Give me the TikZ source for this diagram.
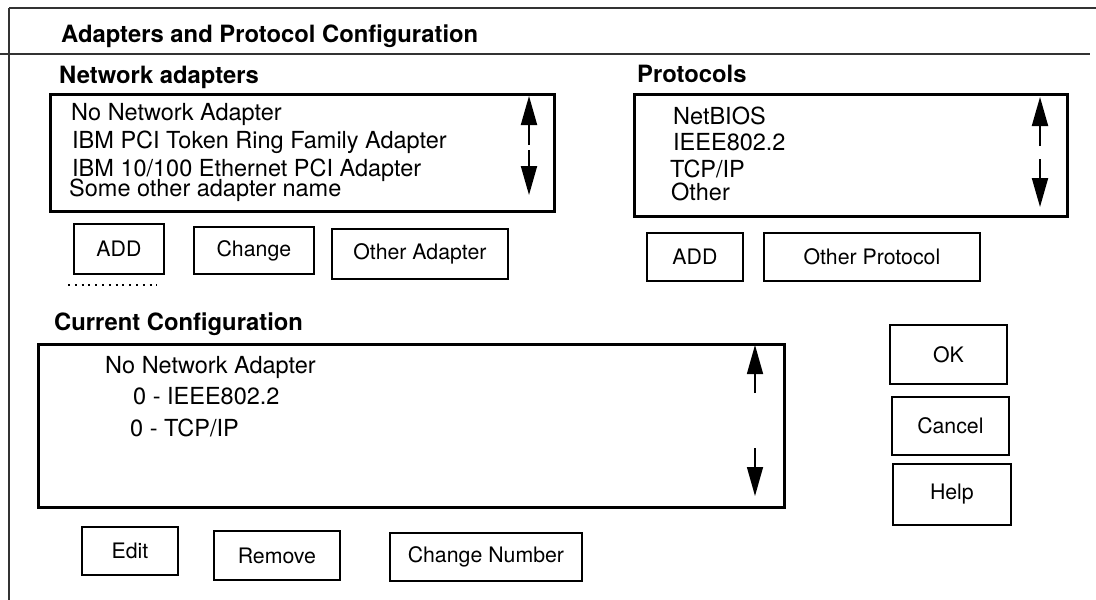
\documentclass[tikz,border=0pt]{standalone}
\usepackage{fontspec}
\setmainfont{TeX Gyre Heros}
\usetikzlibrary{arrows.meta}

\begin{document}
\begin{tikzpicture}[x=1pt, y=-1pt,
    frameline/.style={line width=1.8pt, black!80},
    listbox/.style={draw, line width=3pt, anchor=north west, inner sep=0pt},
    button/.style={draw, line width=1.8pt, anchor=north west, inner sep=0pt,
        font=\fontsize{21.3}{24}\selectfont},
    item/.style={anchor=base west, inner sep=0pt, font=\fontsize{23.5}{28}\selectfont},
    heading/.style={anchor=base west, inner sep=0pt,
        font=\fontsize{23.8}{28}\selectfont\bfseries},
    scroll/.style={line width=2pt, -{Triangle[length=29pt, width=16pt]}}]

    \useasboundingbox (0,0) rectangle (1096,600);

    % window frame
    \coordinate (tl) at (9,8);
    \coordinate (tr) at (1096,8);
    \coordinate (bl) at (9,600);
    \coordinate (sepL) at (0,54);
    \coordinate (sepR) at (1090,54);
    \draw[frameline] (tl) -- (tr);
    \draw[frameline] (tl) -- (bl);
    \draw[frameline] (sepL) -- (sepR);

    \node[heading] (title) at (61,42) {Adapters and Protocol Configuration};

    % network adapters
    \node[heading] (adhead) at (59,83) {Network adapters};
    \node[listbox, minimum width=504pt, minimum height=117pt] (adlist) at (49,93) {};
    \node[item] (ad1) at (71,120) {No Network Adapter};
    \node[item] (ad2) at (72,148) {IBM PCI Token Ring Family Adapter};
    \node[item] (ad3) at (72,176) {IBM 10/100 Ethernet PCI Adapter};
    \node[item] (ad4) at (69,196) {Some other adapter name};
    \coordinate (adupS) at (529,145);
    \coordinate (adupE) at (529,96);
    \coordinate (addnS) at (529,150);
    \coordinate (addnE) at (529,195);
    \draw[scroll] (adupS) -- (adupE);
    \draw[scroll] (addnS) -- (addnE);

    % protocols
    \node[heading] (prothead) at (637,82) {Protocols};
    \node[listbox, minimum width=433pt, minimum height=122pt] (protlist) at (633,93) {};
    \node[item] (p1) at (673,124) {NetBIOS};
    \node[item] (p2) at (673,150) {IEEE802.2};
    \node[item] (p3) at (670,177) {TCP/IP};
    \node[item] (p4) at (671,200) {Other};
    \coordinate (prupS) at (1040,146);
    \coordinate (prupE) at (1040,97);
    \coordinate (prdnS) at (1040,159);
    \coordinate (prdnE) at (1040,207);
    \draw[scroll] (prupS) -- (prupE);
    \draw[scroll] (prdnS) -- (prdnE);

    % adapter and protocol buttons
    \node[button, minimum width=90pt, minimum height=50pt] (addadp) at (73,223) {ADD};
    \node[button, minimum width=120pt, minimum height=47pt] (change) at (193,226) {Change};
    \node[button, minimum width=176pt, minimum height=50pt] (otheradp) at (331,228) {Other Adapter};
    \coordinate (dotL) at (68,285);
    \coordinate (dotR) at (157,285);
    \draw[line width=2pt, dash pattern=on 2pt off 4.8pt] (dotL) -- (dotR);
    \node[button, minimum width=96pt, minimum height=48pt] (addprot) at (646,232) {ADD};
    \node[button, minimum width=216pt, minimum height=48pt] (otherprot) at (763,232) {Other Protocol};

    % current configuration
    \node[heading] (confhead) at (54,330) {Current Configuration};
    \node[listbox, minimum width=746pt, minimum height=163pt] (conflist) at (37,343) {};
    \node[item] (c1) at (105,373) {No Network Adapter};
    \node[item] (c2) at (133,404) {0 - IEEE802.2};
    \node[item] (c3) at (130,436) {0 - TCP/IP};
    \coordinate (cfupS) at (755,393);
    \coordinate (cfupE) at (755,345);
    \coordinate (cfdnS) at (755,448);
    \coordinate (cfdnE) at (755,496);
    \draw[scroll, line width=1.5pt] (cfupS) -- (cfupE);
    \draw[scroll, line width=1.5pt] (cfdnS) -- (cfdnE);

    % dialog buttons
    \node[button, minimum width=117pt, minimum height=59pt] (ok) at (889,324) {OK};
    \node[button, minimum width=117pt, minimum height=58pt] (cancel) at (891,396) {Cancel};
    \node[button, minimum width=118pt, minimum height=61pt] (help) at (892,463) {Help};
    \node[button, minimum width=96pt, minimum height=48pt] (edit) at (81,526) {Edit};
    \node[button, minimum width=126pt, minimum height=49pt] (remove) at (213,530) {Remove};
    \node[button, minimum width=192pt, minimum height=48pt] (changenum) at (389,532) {Change Number};
\end{tikzpicture}
\end{document}
